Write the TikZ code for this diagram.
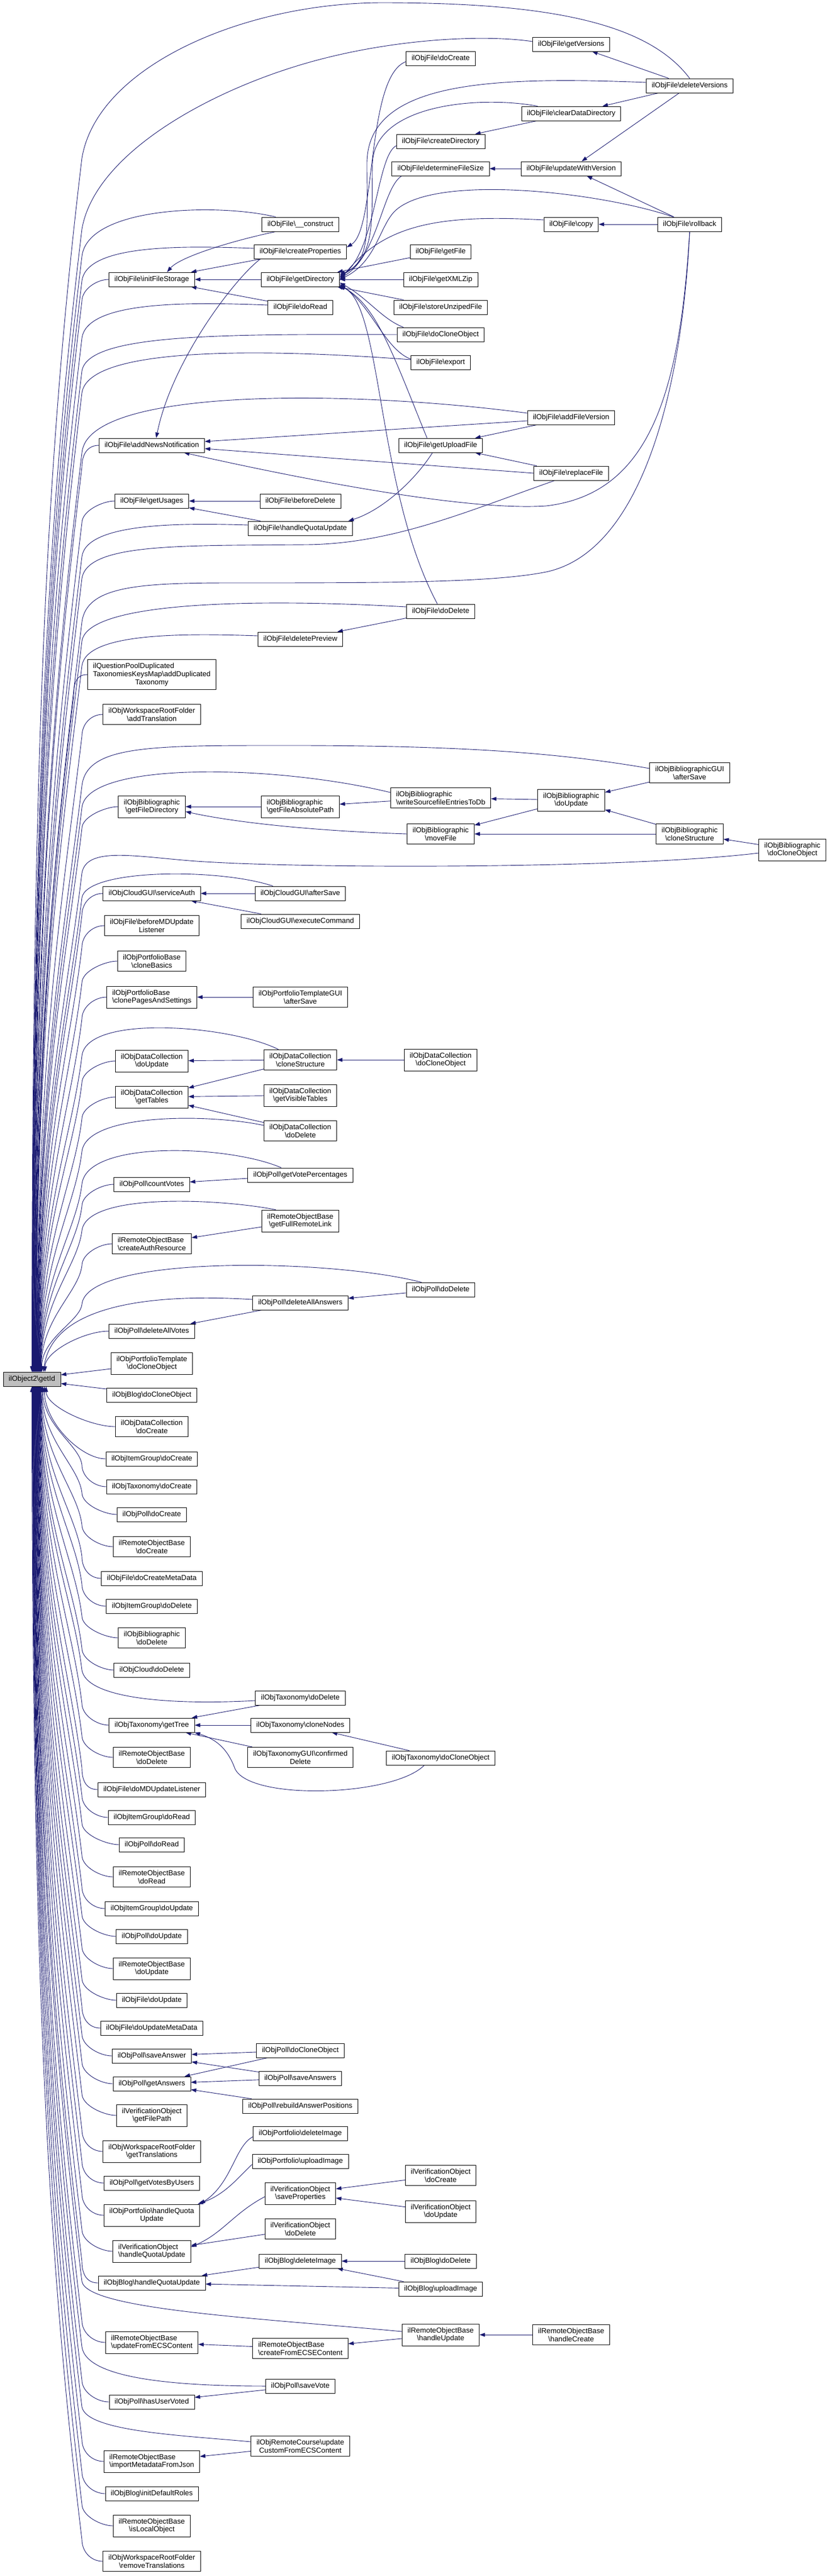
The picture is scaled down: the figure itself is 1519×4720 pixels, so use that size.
\documentclass[tikz,border=0pt]{standalone}
\usepackage{fontspec}
\setmainfont{Liberation Sans}
\usetikzlibrary{arrows.meta,calc,backgrounds}

\definecolor{callblue}{HTML}{191970}
\definecolor{rootgray}{HTML}{BFBFBF}
\newcommand{\bsl}{\textbackslash}

\begin{document}
\begin{tikzpicture}[x=1pt, y=-1pt,
  fn/.style={draw=black, line width=0.9pt, fill=white, inner xsep=10pt, inner ysep=6.5pt,
    minimum height=26pt, align=center, font=\fontsize{13.3}{14.6}\selectfont},
  fnl/.style={fn, align=left},
  rootfn/.style={fn, fill=rootgray},
  callarrow/.style={draw=callblue, line width=0.9pt, -{Triangle[length=10pt,width=7pt]}},
  colone/.style={to path={let \p1=(\tikztostart), \p2=(\tikztotarget),
      \n1={sign((\y1)-(\y2))}, \n2={(\y1)-\n1*40pt}, \n3={\n2-(\y2)} in
      .. controls +(-22pt,0pt) and ({#1pt},{\n2*1pt+\n1*22pt}) .. ({#1pt},{\n2*1pt})
      .. controls ({#1pt-0.03*abs(\n3)*1pt},{\n2*1pt-0.25*(\n3)*1pt}) and (\x2,{\y2+0.5*(\n3)*1pt}) .. (\tikztotarget) \tikztonodes}},
  colone/.default=150,
  nearone/.style={to path={let \p1=(\tikztostart), \p2=(\tikztotarget) in
      .. controls +(-45pt,0pt) and (\x2,{\y2+0.5*((\y1)-(\y2))}) .. (\tikztotarget) \tikztonodes}},
  lanecurve/.style={to path={let \p1=(\tikztostart), \p2=(\tikztotarget), \n3={(\y1)-(\y2)} in
      .. controls ({\x1-0.03*abs(\n3)*1pt},{\y1-0.25*(\n3)*1pt}) and (\x2,{\y2+0.5*(\n3)*1pt}) .. (\tikztotarget) \tikztonodes}}]

\useasboundingbox (0,0) rectangle (1519,4720);

%% the function itself
\node[rootfn] (getId) at (58.5,2527) {ilObject2\bsl getId};

%% first column of callers
\node[fn] (fInit) at (278,512) {ilObjFile\bsl initFileStorage};
\node[fn] (fNews) at (278,816) {ilObjFile\bsl addNewsNotification};
\node[fn] (fUsages) at (278,918) {ilObjFile\bsl getUsages};
\node[fn] (qpDup) at (278,1236) {\rlap{ilQuestionPoolDuplicated}\hphantom{TaxonomiesKeysMap\bsl addDuplicated}\\TaxonomiesKeysMap\bsl addDuplicated\\Taxonomy};
\node[fn] (wsAddTr) at (278,1309) {ilObjWorkspaceRootFolder\\\bsl addTranslation};
\node[fn] (bibDir) at (278,1478) {ilObjBibliographic\\\bsl getFileDirectory};
\node[fn] (cgAuth) at (278,1637) {ilObjCloudGUI\bsl serviceAuth};
\node[fn] (fBeforeMD) at (278,1696) {ilObjFile\bsl beforeMDUpdate\\Listener};
\node[fn] (pbBasics) at (278,1761) {ilObjPortfolioBase\\\bsl cloneBasics};
\node[fnl] (pbPages) at (278,1827) {ilObjPortfolioBase\\\bsl clonePagesAndSettings};
\node[fn] (dcUpdate) at (278,1944) {ilObjDataCollection\\\bsl doUpdate};
\node[fn] (dcTables) at (278,2010) {ilObjDataCollection\\\bsl getTables};
\node[fn] (plCount) at (278,2170) {ilObjPoll\bsl countVotes};
\node[fnl] (roAuth) at (278,2279) {ilRemoteObjectBase\\\bsl createAuthResource};
\node[fn] (plDelVotes) at (278,2439) {ilObjPoll\bsl deleteAllVotes};
\node[fn] (ptClone) at (278,2498) {ilObjPortfolioTemplate\\\bsl doCloneObject};
\node[fn] (blClone) at (278,2556) {ilObjBlog\bsl doCloneObject};
\node[fn] (dcCreate) at (278,2614) {ilObjDataCollection\\\bsl doCreate};
\node[fn] (igCreate) at (278,2673) {ilObjItemGroup\bsl doCreate};
\node[fn] (txCreate) at (278,2724) {ilObjTaxonomy\bsl doCreate};
\node[fn] (plCreate) at (278,2775) {ilObjPoll\bsl doCreate};
\node[fn] (roCreate) at (278,2834) {ilRemoteObjectBase\\\bsl doCreate};
\node[fn] (fCreateMD) at (278,2892) {ilObjFile\bsl doCreateMetaData};
\node[fn] (igDelete) at (278,2943) {ilObjItemGroup\bsl doDelete};
\node[fn] (bibDelete) at (278,3001) {ilObjBibliographic\\\bsl doDelete};
\node[fn] (clDelete) at (278,3060) {ilObjCloud\bsl doDelete};
\node[fn] (txTree) at (278,3161) {ilObjTaxonomy\bsl getTree};
\node[fn] (roDelete) at (278,3220) {ilRemoteObjectBase\\\bsl doDelete};
\node[fn] (fMDListen) at (278,3279) {ilObjFile\bsl doMDUpdateListener};
\node[fn] (igRead) at (278,3330) {ilObjItemGroup\bsl doRead};
\node[fn] (plRead) at (278,3380) {ilObjPoll\bsl doRead};
\node[fn] (roRead) at (278,3439) {ilRemoteObjectBase\\\bsl doRead};
\node[fn] (igUpdate) at (278,3497) {ilObjItemGroup\bsl doUpdate};
\node[fn] (plUpdate) at (278,3548) {ilObjPoll\bsl doUpdate};
\node[fn] (roUpdate) at (278,3607) {ilRemoteObjectBase\\\bsl doUpdate};
\node[fn] (fUpdate) at (278,3665) {ilObjFile\bsl doUpdate};
\node[fn] (fUpdateMD) at (278,3716) {ilObjFile\bsl doUpdateMetaData};
\node[fn] (plSaveAns) at (278,3767) {ilObjPoll\bsl saveAnswer};
\node[fn] (plGetAns) at (278,3818) {ilObjPoll\bsl getAnswers};
\node[fn] (voPath) at (278,3876) {ilVerificationObject\\\bsl getFilePath};
\node[fn] (wsGetTr) at (278,3942) {ilObjWorkspaceRootFolder\\\bsl getTranslations};
\node[fn] (plByUsers) at (278,4000) {ilObjPoll\bsl getVotesByUsers};
\node[fn] (pfQuota) at (278,4059) {ilObjPortfolio\bsl handleQuota\\Update};
\node[fnl] (voQuota) at (278,4125) {ilVerificationObject\\\bsl handleQuotaUpdate};
\node[fn] (blQuota) at (278,4183) {ilObjBlog\bsl handleQuotaUpdate};
\node[fnl] (roFromECS) at (278,4292) {ilRemoteObjectBase\\\bsl updateFromECSContent};
\node[fn] (plVoted) at (278,4401) {ilObjPoll\bsl hasUserVoted};
\node[fnl] (roImport) at (278,4510) {ilRemoteObjectBase\\\bsl importMetadataFromJson};
\node[fn] (blRoles) at (278,4569) {ilObjBlog\bsl initDefaultRoles};
\node[fn] (roLocal) at (278,4628) {ilRemoteObjectBase\\\bsl isLocalObject};
\node[fn] (wsRemTr) at (278,4693) {ilObjWorkspaceRootFolder\\\bsl removeTranslations};

%% second column
\node[fn] (fConstruct) at (550,411) {ilObjFile\bsl\_\_construct};
\node[fn] (fProps) at (550,461) {ilObjFile\bsl createProperties};
\node[fn] (fDir) at (550,512) {ilObjFile\bsl getDirectory};
\node[fn] (fRead) at (550,563) {ilObjFile\bsl doRead};
\node[fn] (fBeforeDel) at (550,918) {ilObjFile\bsl beforeDelete};
\node[fn] (fQuota) at (550,968) {ilObjFile\bsl handleQuotaUpdate};
\node[fn] (fDelPrev) at (550,1171) {ilObjFile\bsl deletePreview};
\node[fnl] (bibAbsPath) at (550,1478) {ilObjBibliographic\\\bsl getFileAbsolutePath};
\node[fn] (cgAfterSave) at (550,1637) {ilObjCloudGUI\bsl afterSave};
\node[fn] (cgExec) at (550,1688) {ilObjCloudGUI\bsl executeCommand};
\node[fn] (ptgAfterSave) at (550,1827) {ilObjPortfolioTemplateGUI\\\bsl afterSave};
\node[fn] (dcCloneStr) at (550,1942) {ilObjDataCollection\\\bsl cloneStructure};
\node[fn] (dcVisible) at (550,2007) {ilObjDataCollection\\\bsl getVisibleTables};
\node[fn] (dcDelete) at (550,2072) {ilObjDataCollection\\\bsl doDelete};
\node[fn] (plPercent) at (550,2153) {ilObjPoll\bsl getVotePercentages};
\node[fn] (roLink) at (550,2237) {ilRemoteObjectBase\\\bsl getFullRemoteLink};
\node[fn] (plDelAns) at (550,2387) {ilObjPoll\bsl deleteAllAnswers};
\node[fn] (txDelete) at (550,3111) {ilObjTaxonomy\bsl doDelete};
\node[fn] (txNodes) at (550,3161) {ilObjTaxonomy\bsl cloneNodes};
\node[fn] (txgConfirm) at (550,3220) {ilObjTaxonomyGUI\bsl confirmed\\Delete};
\node[fn] (plClone) at (550,3757) {ilObjPoll\bsl doCloneObject};
\node[fn] (plSaveAnss) at (550,3808) {ilObjPoll\bsl saveAnswers};
\node[fn] (plRebuild) at (550,3859) {ilObjPoll\bsl rebuildAnswerPositions};
\node[fn] (pfDelImg) at (550,3909) {ilObjPortfolio\bsl deleteImage};
\node[fn] (pfUpImg) at (550,3960) {ilObjPortfolio\bsl uploadImage};
\node[fn] (voSave) at (550,4019) {ilVerificationObject\\\bsl saveProperties};
\node[fn] (voDelete) at (550,4084) {ilVerificationObject\\\bsl doDelete};
\node[fn] (blDelImg) at (550,4143) {ilObjBlog\bsl deleteImage};
\node[fnl] (roCreateECS) at (550,4303) {ilRemoteObjectBase\\\bsl createFromECSEContent};
\node[fn] (plSaveVote) at (550,4372) {ilObjPoll\bsl saveVote};
\node[fn] (rcUpdate) at (550,4482) {ilObjRemoteCourse\bsl update\\CustomFromECSContent};

%% third column
\node[fn] (fCreate) at (807,107) {ilObjFile\bsl doCreate};
\node[fn] (fCreateDir) at (807,259) {ilObjFile\bsl createDirectory};
\node[fn] (fSize) at (807,309) {ilObjFile\bsl determineFileSize};
\node[fn] (fGetFile) at (807,461) {ilObjFile\bsl getFile};
\node[fn] (fXML) at (807,512) {ilObjFile\bsl getXMLZip};
\node[fn] (fUnzip) at (807,563) {ilObjFile\bsl storeUnzipedFile};
\node[fn] (fClone) at (807,613) {ilObjFile\bsl doCloneObject};
\node[fn] (fExport) at (807,664) {ilObjFile\bsl export};
\node[fn] (fUpload) at (807,816) {ilObjFile\bsl getUploadFile};
\node[fn] (fDelete) at (807,1120) {ilObjFile\bsl doDelete};
\node[fnl] (bibWrite) at (807,1462) {ilObjBibliographic\\\bsl writeSourcefileEntriesToDb};
\node[fn] (bibMove) at (807,1528) {ilObjBibliographic\\\bsl moveFile};
\node[fn] (dcClone) at (807,1942) {ilObjDataCollection\\\bsl doCloneObject};
\node[fn] (plDelete) at (807,2363) {ilObjPoll\bsl doDelete};
\node[fn] (txClone) at (807,3221) {ilObjTaxonomy\bsl doCloneObject};
\node[fn] (voCreate) at (807,3986) {ilVerificationObject\\\bsl doCreate};
\node[fn] (voUpdate) at (807,4052) {ilVerificationObject\\\bsl doUpdate};
\node[fn] (blDelete) at (807,4143) {ilObjBlog\bsl doDelete};
\node[fn] (blUpImg) at (807,4194) {ilObjBlog\bsl uploadImage};
\node[fn] (roHandleUp) at (807,4278) {ilRemoteObjectBase\\\bsl handleUpdate};

%% fourth to sixth column
\node[fn] (fVersions) at (1046,81) {ilObjFile\bsl getVersions};
\node[fn] (fClearDir) at (1046,208) {ilObjFile\bsl clearDataDirectory};
\node[fn] (fUpdVer) at (1046,309) {ilObjFile\bsl updateWithVersion};
\node[fn] (fCopy) at (1046,411) {ilObjFile\bsl copy};
\node[fn] (fAddVer) at (1046,765) {ilObjFile\bsl addFileVersion};
\node[fn] (fReplace) at (1046,867) {ilObjFile\bsl replaceFile};
\node[fn] (bibUpdate) at (1046,1466) {ilObjBibliographic\\\bsl doUpdate};
\node[fn] (roHandleCr) at (1046,4278) {ilRemoteObjectBase\\\bsl handleCreate};
\node[fn] (fDelVer) at (1263,157) {ilObjFile\bsl deleteVersions};
\node[fn] (fRollback) at (1263,411) {ilObjFile\bsl rollback};
\node[fn] (bgAfterSave) at (1263,1416) {ilObjBibliographicGUI\\\bsl afterSave};
\node[fn] (bibCloneStr) at (1263,1528) {ilObjBibliographic\\\bsl cloneStructure};
\node[fn] (bibClone) at (1451,1557) {ilObjBibliographic\\\bsl doCloneObject};

\begin{pgfonlayer}{background}
%% first column into getId
\foreach \fname/\off in {fInit/2, fNews/4.5, fUsages/5, wsAddTr/8.5, bibDir/10, cgAuth/11.5,
    fBeforeMD/12, pbBasics/12.5, pbPages/13, dcUpdate/14, dcTables/14.5, plCount/16, roAuth/17}
  \draw[callarrow] (\fname.west) to[colone] ([xshift=\off pt]getId.north);
\draw[callarrow] (qpDup.west) to[colone=135] ([xshift=8pt]getId.north);
\draw[callarrow] (plDelVotes.west) to[nearone] ([xshift=24pt]getId.north);
\draw[callarrow] ([yshift=-10pt]ptClone.west) -- ([yshift=8pt]getId.east);
\draw[callarrow] ([yshift=11pt]blClone.west) -- ([yshift=-8pt]getId.east);
\draw[callarrow] (dcCreate.west) to[nearone] ([xshift=26pt]getId.south);
\draw[callarrow] (igCreate.west) to[nearone] ([xshift=23pt]getId.south);
\foreach \fname/\off in {txCreate/20, plCreate/18.5, roCreate/17.5, fCreateMD/16.5, igDelete/16,
    bibDelete/15.5, clDelete/15, txTree/14, roDelete/13.5, fMDListen/13, igRead/12.5, plRead/12,
    roRead/11.5, igUpdate/11, plUpdate/10.5, roUpdate/10, fUpdate/9.5, fUpdateMD/9, plSaveAns/8.5,
    plGetAns/8, voPath/7.5, wsGetTr/7, plByUsers/6.5, pfQuota/6, voQuota/5.5, blQuota/5,
    roFromECS/4, plVoted/3, roImport/2, blRoles/1.5, roLocal/1, wsRemTr/0}
  \draw[callarrow] (\fname.west) to[colone] ([xshift=\off pt]getId.south);

%% farther callers into getId
\draw[callarrow] (fDelVer.north) .. controls (1185,40) and (1000,5) .. (700,5) .. controls (450,5) and (178,120) .. (150,290) to[lanecurve] (getId.north);
\draw[callarrow] ([yshift=5pt]fVersions.west) .. controls (880,62) and (700,72) .. (540,122) .. controls (360,178) and (172,290) .. (150,420) to[lanecurve] ([xshift=0.5pt]getId.north);
\draw[callarrow] ([xshift=-45pt]fConstruct.north) .. controls (400,372) and (160,378) .. (150,470) to[lanecurve] ([xshift=1pt]getId.north);
\draw[callarrow] ([yshift=6pt]fProps.west) .. controls (330,450) and (158,448) .. (150,515) to[lanecurve] ([xshift=1.5pt]getId.north);
\draw[callarrow] ([yshift=4pt]fRead.west) .. controls (340,553) and (158,552) .. (150,620) to[lanecurve] ([xshift=2.5pt]getId.north);
\draw[callarrow] (fClone.west) .. controls (400,612) and (160,612) .. (150,680) to[lanecurve] ([xshift=3pt]getId.north);
\draw[callarrow] ([yshift=5pt]fExport.west) .. controls (500,640) and (162,632) .. (150,720) to[lanecurve] ([xshift=3.5pt]getId.north);
\draw[callarrow] ([yshift=8pt]fAddVer.west) .. controls (650,715) and (160,708) .. (150,830) to[lanecurve] ([xshift=4pt]getId.north);
\draw[callarrow] ([yshift=6pt]fQuota.west) .. controls (330,958) and (158,958) .. (150,1020) to[lanecurve] ([xshift=5.5pt]getId.north);
\draw[callarrow] ([xshift=-30pt]fReplace.south) .. controls (860,935) and (720,997) .. (560,998) .. controls (330,1000) and (160,995) .. (150,1060) to[lanecurve] ([xshift=6pt]getId.north);
\draw[callarrow] (fRollback.south) .. controls (1250,700) and (1180,1010) .. (1000,1048) .. controls (900,1068) and (700,1068) .. (420,1068) .. controls (250,1068) and (158,1075) .. (150,1140) to[lanecurve] ([xshift=6.5pt]getId.north);
\draw[callarrow] ([yshift=8pt]fDelete.west) .. controls (500,1098) and (160,1098) .. (150,1175) to[lanecurve] ([xshift=7pt]getId.north);
\draw[callarrow] ([yshift=6pt]fDelPrev.west) .. controls (330,1160) and (158,1160) .. (150,1220) to[lanecurve] ([xshift=7.5pt]getId.north);
\draw[callarrow] ([yshift=8pt]bgAfterSave.west) .. controls (1000,1375) and (800,1365) .. (480,1366) .. controls (260,1366) and (158,1370) .. (150,1440) to[lanecurve] ([xshift=9pt]getId.north);
\draw[callarrow] ([yshift=10pt]bibWrite.west) .. controls (500,1400) and (158,1395) .. (150,1480) to[lanecurve] ([xshift=9.5pt]getId.north);
\draw[callarrow] ([yshift=-6pt]bibClone.west) .. controls (1150,1592) and (560,1592) .. (360,1578) .. controls (250,1570) and (158,1550) .. (150,1600) to[lanecurve] ([xshift=10.5pt]getId.north);
\draw[callarrow] ([xshift=-50pt]cgAfterSave.north) .. controls (400,1590) and (158,1592) .. (150,1645) to[lanecurve] ([xshift=11pt]getId.north);
\draw[callarrow] ([xshift=-40pt]dcCloneStr.north) .. controls (420,1878) and (158,1858) .. (150,1935) to[lanecurve] ([xshift=13.5pt]getId.north);
\draw[callarrow] ([yshift=10pt]dcDelete.west) .. controls (380,2040) and (158,2040) .. (150,2110) to[lanecurve] ([xshift=15pt]getId.north);
\draw[callarrow] ([xshift=-35pt]plPercent.north) .. controls (420,2098) and (158,2088) .. (150,2170) to[lanecurve] ([xshift=15.5pt]getId.north);
\draw[callarrow] ([xshift=-45pt]roLink.north) .. controls (400,2196) and (158,2185) .. (150,2255) to[lanecurve] ([xshift=16.5pt]getId.north);
\draw[callarrow] ([xshift=-35pt]plDelete.north) .. controls (600,2305) and (158,2300) .. (150,2390) to[lanecurve] ([xshift=18pt]getId.north);
\draw[callarrow] ([yshift=6pt]plDelAns.west) .. controls (250,2368) and (95,2400) .. ([xshift=21pt]getId.north);
\draw[callarrow] ([yshift=-5pt]txDelete.west) .. controls (300,3125) and (158,3110) .. (150,3060) to[lanecurve] ([xshift=14.5pt]getId.south);
\draw[callarrow] ([yshift=6pt]roHandleUp.west) .. controls (480,4248) and (158,4232) .. (150,4180) to[lanecurve] ([xshift=4.5pt]getId.south);
\draw[callarrow] (plSaveVote.west) .. controls (330,4372) and (158,4360) .. (150,4300) to[lanecurve] ([xshift=3.5pt]getId.south);
\draw[callarrow] ([yshift=8pt]rcUpdate.west) .. controls (330,4462) and (158,4455) .. (150,4410) to[lanecurve] ([xshift=2.5pt]getId.south);

%% ilObjFile calls
\draw[callarrow] (fDelVer) -- (fVersions);
\draw[callarrow] (fDelVer) -- (fClearDir);
\draw[callarrow] (fDelVer) -- (fUpdVer);
\draw[callarrow] (fClearDir) -- (fCreateDir);
\draw[callarrow] (fUpdVer) -- (fSize);
\draw[callarrow] (fRollback) -- (fUpdVer);
\draw[callarrow] (fRollback) -- (fCopy);
\draw[callarrow] (fGetFile) -- (fDir);
\draw[callarrow] (fXML) -- (fDir);
\draw[callarrow] (fUnzip) -- (fDir);
\draw[callarrow] (fDir) -- (fInit);
\draw[callarrow] (fProps) -- (fInit);
\draw[callarrow] (fRead) -- (fInit);
\draw[callarrow] ([xshift=-45pt]fConstruct.south) .. controls (430,440) and (330,470) .. ([xshift=28pt]fInit.north);
\draw[callarrow] ([yshift=-6pt]fCreate.west) .. controls (670,140) and (690,420) .. ([yshift=8pt]fProps.east);
\draw[callarrow] ([yshift=6pt]fDelVer.west) .. controls (900,140) and (672,148) .. (672,300) .. controls (672,420) and (680,480) .. ([yshift=9pt]fDir.east);
\draw[callarrow] ([xshift=30pt]fClearDir.north west) .. controls (880,175) and (685,190) .. (682,300) .. controls (680,400) and (690,470) .. ([yshift=6pt]fDir.east);
\draw[callarrow] ([yshift=-8pt]fCreateDir.west) .. controls (690,285) and (688,460) .. ([yshift=4pt]fDir.east);
\draw[callarrow] ([xshift=18pt]fSize.south west) .. controls (700,345) and (692,470) .. ([yshift=2pt]fDir.east);
\draw[callarrow] ([xshift=-30pt]fRollback.north) .. controls (1100,352) and (800,318) .. (725,385) .. controls (695,412) and (690,480) .. (fDir.east);
\draw[callarrow] ([yshift=8pt]fCopy.west) .. controls (800,392) and (700,412) .. ([yshift=-2pt]fDir.east);
\draw[callarrow] ([xshift=12pt]fClone.north west) .. controls (700,585) and (672,545) .. ([yshift=-6pt]fDir.east);
\draw[callarrow] ([yshift=6pt]fExport.west) .. controls (705,640) and (680,560) .. ([yshift=-9pt]fDir.east);
\draw[callarrow] ([xshift=-25pt]fUpload.north) .. controls (720,650) and (690,560) .. ([yshift=-11pt]fDir.east);
\draw[callarrow] ([xshift=-6pt]fDelete.north) .. controls (690,900) and (700,560) .. ([yshift=-12pt]fDir.east);
\draw[callarrow] (fDelete) -- (fDelPrev);
\draw[callarrow] ([xshift=-15pt]fUpload.south) .. controls (760,880) and (700,935) .. ([xshift=-8pt]fQuota.north east);
\draw[callarrow] ([yshift=-6pt]fAddVer.west) -- ([yshift=7pt]fNews.east);
\draw[callarrow] (fReplace.west) -- ([yshift=-6pt]fNews.east);
\draw[callarrow] (fAddVer) -- (fUpload);
\draw[callarrow] (fReplace) -- (fUpload);
\draw[callarrow] ([xshift=12pt]fProps.south west) .. controls (430,510) and (315,660) .. ([xshift=8pt]fNews.north);
\draw[callarrow] (fRollback.south) .. controls (1245,720) and (1190,905) .. (1000,927) .. controls (850,937) and (540,875) .. ([xshift=-38pt]fNews.south east);
\draw[callarrow] (fBeforeDel) -- (fUsages);
\draw[callarrow] (fQuota) -- (fUsages);

%% ilObjBibliographic calls
\draw[callarrow] (bgAfterSave) -- (bibUpdate);
\draw[callarrow] (bibUpdate) -- (bibWrite);
\draw[callarrow] (bibUpdate) -- (bibMove);
\draw[callarrow] (bibWrite) -- (bibAbsPath);
\draw[callarrow] (bibAbsPath) -- (bibDir);
\draw[callarrow] (bibMove.west) .. controls (560,1522) and (420,1505) .. ([yshift=-9pt]bibDir.east);
\draw[callarrow] (bibCloneStr) -- (bibUpdate);
\draw[callarrow] (bibCloneStr) -- (bibMove);
\draw[callarrow] (bibClone) -- (bibCloneStr);

%% cloud, portfolio, data collection, poll, remote
\draw[callarrow] (cgAfterSave) -- (cgAuth);
\draw[callarrow] (cgExec) -- (cgAuth);
\draw[callarrow] (ptgAfterSave) -- (pbPages);
\draw[callarrow] (dcCloneStr) -- (dcUpdate);
\draw[callarrow] (dcCloneStr) -- (dcTables);
\draw[callarrow] (dcClone) -- (dcCloneStr);
\draw[callarrow] (dcVisible) -- (dcTables);
\draw[callarrow] (dcDelete) -- (dcTables);
\draw[callarrow] (plPercent) -- (plCount);
\draw[callarrow] (roLink) -- (roAuth);
\draw[callarrow] (plDelete) -- (plDelAns);
\draw[callarrow] (plDelAns) -- (plDelVotes);

%% taxonomy
\draw[callarrow] (txDelete) -- (txTree);
\draw[callarrow] (txNodes) -- (txTree);
\draw[callarrow] (txgConfirm) -- (txTree);
\draw[callarrow] (txClone) -- (txNodes);
\draw[callarrow] ([xshift=-30pt]txClone.south) .. controls (720,3292) and (455,3300) .. (430,3240) .. controls (418,3208) and (400,3188) .. (txTree.south east);

%% answers, images, verification, blog
\draw[callarrow] (plClone) -- (plSaveAns);
\draw[callarrow] (plClone) -- (plGetAns);
\draw[callarrow] (plSaveAnss) -- (plSaveAns);
\draw[callarrow] (plSaveAnss) -- (plGetAns);
\draw[callarrow] (plRebuild) -- (plGetAns);
\draw[callarrow] ([yshift=-6pt]pfDelImg.west) .. controls (430,3932) and (425,4000) .. (pfQuota.north east);
\draw[callarrow] ([yshift=-6pt]pfUpImg.west) .. controls (440,3985) and (415,4020) .. ([xshift=-4pt]pfQuota.north east);
\draw[callarrow] (voCreate) -- (voSave);
\draw[callarrow] (voUpdate) -- (voSave);
\draw[callarrow] ([yshift=-6pt]voSave.west) .. controls (428,4055) and (408,4092) .. ([yshift=8pt]voQuota.east);
\draw[callarrow] (voDelete) -- (voQuota);
\draw[callarrow] (blDelete) -- (blDelImg);
\draw[callarrow] (blUpImg) -- (blDelImg);
\draw[callarrow] (blDelImg) -- (blQuota);
\draw[callarrow] (blUpImg) -- (blQuota);
\draw[callarrow] (roHandleCr) -- (roHandleUp);
\draw[callarrow] (roHandleUp) -- (roCreateECS);
\draw[callarrow] (roCreateECS) -- (roFromECS);
\draw[callarrow] (plSaveVote) -- (plVoted);
\draw[callarrow] (rcUpdate) -- (roImport);
\end{pgfonlayer}

\end{tikzpicture}
\end{document}
